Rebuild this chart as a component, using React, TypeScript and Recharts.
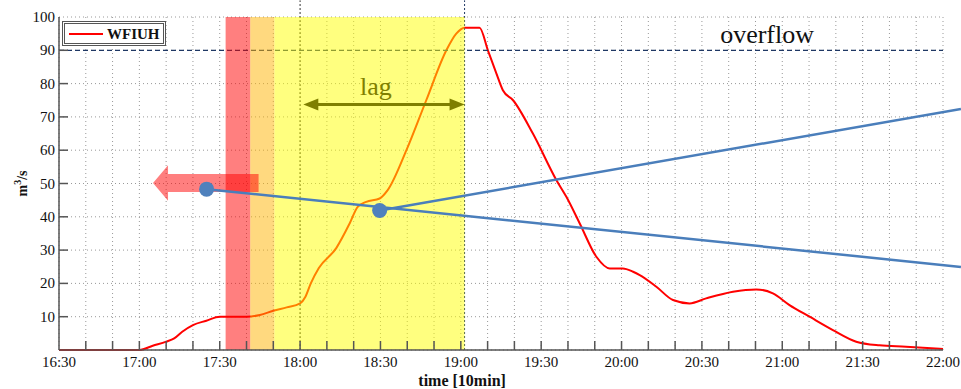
import React from 'react';
import {
  ComposedChart,
  Line,
  XAxis,
  YAxis,
  CartesianGrid,
  ReferenceLine,
  ReferenceArea,
  ReferenceDot,
  Legend,
  Label,
} from 'recharts';

// minutes after 16:30
const timeMinutes = [
  0, 10, 20, 30, 35, 40, 43, 46, 50, 55, 60, 65, 70, 75, 80, 85, 90, 92, 94, 97,
  103.5, 108.5, 111.5, 114.7, 119.7, 122.7, 129.7, 137.1, 144.6, 148.3, 151.4, 157,
  160.1, 163.3, 165.7, 169.5, 176.9, 185.7, 189.4, 194.4, 200.6, 205.6, 210.5, 214.3,
  216.8, 223, 229.2, 235.4, 241.6, 251.6, 260.3, 266.5, 272.7, 280.2, 288.9, 297.6,
  306.3, 316.2, 330,
];
const flowValues = [
  0, 0, 0, 0, 1.3, 2.5, 3.5, 5.5, 7.5, 8.8, 10, 10, 10, 10.5, 11.8, 12.8, 14, 16, 20, 24.6,
  30.6, 38, 43, 44.5, 45.5, 48, 60, 75, 90, 95, 96.8, 96.8,
  90, 83, 78, 75, 65, 51, 46, 38, 28, 24.5, 24.5, 23.5,
  22.5, 19, 15, 14, 15.5, 17.5, 18.2, 17, 13.5, 10, 6, 2.5,
  1.4, 1, 0.3,
];

const xTickMinutes = [
  0, 10, 20, 30, 40, 50, 60, 70, 80, 90, 100, 110, 120, 130, 140, 150, 160, 170, 180,
  190, 200, 210, 220, 230, 240, 250, 260, 270, 280, 290, 300, 310, 320, 330,
];
const xTickLabels = [
  '16:30', '17:00', '17:30', '18:00', '18:30', '19:00', '19:30', '20:00', '20:30',
  '21:00', '21:30', '22:00',
];
const yTicks = [0, 10, 20, 30, 40, 50, 60, 70, 80, 90, 100];
const overflowLevel = 90;

// shaded periods (minutes)
const redBand = [62.2, 71.4];
const orangeBand = [71.4, 80.4];
const yellowBand = [80.4, 151.4];

// markers above the plot
const markerTimes = [90, 151.4];
const markerLevels = [0, 105];

// lag arrow
const lagStart = 91.2;
const lagEnd = 151.4;
const lagLevel = [71.9, 75.5];

// red arrow
const arrowX = [35.1, 74.5];
const arrowY = [44.8, 55.5];

// blue trend lines
const trendDotT = [55.1, 119.7];
const trendDotV = [48.3, 41.9];
const trendEndT = 336.7;
const trendEndV = [24.95, 72.4];

const data = timeMinutes.map((t, i) => ({ t, q: flowValues[i] }));

const SERIF = '"Liberation Serif", "Times New Roman", serif';

const BottomTick = (props: any) => {
  const { x, y, payload } = props;
  const v = payload.value;
  const lbl = v % 30 === 0 ? xTickLabels[v / 30] : null;
  return (
    <g>
      {v > 0 && v < 330 && <line x1={x} y1={y} x2={x} y2={y - 9} stroke="#555" strokeWidth={1.5} />}
      {lbl && (
        <text x={x} y={y + 17} textAnchor="middle" style={{ fontFamily: SERIF, fontSize: 15 }} fill="#111">
          {lbl}
        </text>
      )}
    </g>
  );
};

const TopTick = (props: any) => {
  const { x, y, payload } = props;
  const v = payload.value;
  if (v <= 0 || v >= 330) return <g />;
  return <line x1={x} y1={y} x2={x} y2={y + 9} stroke="#555" strokeWidth={1.5} />;
};

const LeftTick = (props: any) => {
  const { x, y, payload } = props;
  const v = payload.value;
  return (
    <g>
      {v > 0 && v < 100 && <line x1={x} y1={y} x2={x + 9} y2={y} stroke="#555" strokeWidth={1.5} />}
      {v > 0 && (
        <text x={x - 4} y={y + 5} textAnchor="end" style={{ fontFamily: SERIF, fontSize: 15 }} fill="#111">
          {v}
        </text>
      )}
    </g>
  );
};

const RightTick = (props: any) => {
  const { x, y, payload } = props;
  const v = payload.value;
  if (v <= 0 || v >= 100) return <g />;
  return <line x1={x} y1={y} x2={x - 9} y2={y} stroke="#555" strokeWidth={1.5} />;
};

const LeftArrowShape = (props: any) => {
  const { x, y, width, height } = props;
  const cy = y + height / 2;
  const head = 15;
  const half = height * 0.255;
  const pts = [
    [x, cy],
    [x + head, y],
    [x + head, cy - half],
    [x + width, cy - half],
    [x + width, cy + half],
    [x + head, cy + half],
    [x + head, y + height],
  ]
    .map((p) => p.join(','))
    .join(' ');
  return <polygon points={pts} fill="rgba(255,0,0,0.5)" stroke="none" />;
};

const LagArrowShape = (props: any) => {
  const { x, y, width, height } = props;
  const cy = y + height / 2;
  const head = 15;
  const hh = 6;
  const c = '#7F7F00';
  return (
    <g>
      <line x1={x + head - 2} y1={cy} x2={x + width - head + 2} y2={cy} stroke={c} strokeWidth={3} />
      <polygon points={`${x},${cy} ${x + head},${cy - hh} ${x + head},${cy + hh}`} fill={c} />
      <polygon
        points={`${x + width},${cy} ${x + width - head},${cy - hh} ${x + width - head},${cy + hh}`}
        fill={c}
      />
      <text x={x + width / 2 - 8} y={cy - 9.3} textAnchor="middle" style={{ fontFamily: SERIF, fontSize: 26 }} fill="#808000">
        lag
      </text>
    </g>
  );
};

const LegendBox = () => (
  <div
    style={{
      width: 98,
      height: 19,
      border: '3px double #555',
      background: '#fff',
      position: 'relative',
      boxSizing: 'content-box',
    }}
  >
    <div style={{ position: 'absolute', left: 4, top: 9, width: 34, height: 2, background: '#ff0000' }} />
    <div
      style={{
        position: 'absolute',
        left: 42,
        top: 0,
        fontFamily: SERIF,
        fontWeight: 'bold',
        fontSize: 15,
        lineHeight: '20px',
        color: '#111',
      }}
    >
      WFIUH
    </div>
  </div>
);

export default function App() {
  return (
    <div style={{ position: 'absolute', left: 0, top: 0, background: '#fff' }}>
      <ComposedChart
        width={961}
        height={389}
        data={data}
        margin={{ top: 17, right: 18, bottom: 0, left: 0 }}
      >
        <CartesianGrid stroke="#999" strokeDasharray="1 3" />
        <XAxis
          dataKey="t"
          type="number"
          domain={[0, 330]}
          ticks={xTickMinutes}
          interval={0}
          height={39}
          tickSize={0}
          tickMargin={0}
          tickLine={false}
          axisLine={{ stroke: '#555', strokeWidth: 1.5 }}
          tick={<BottomTick />}
        >
          <Label
            content={(p: any) => {
              const vb = p.viewBox || {};
              return (
                <text
                  x={vb.x + vb.width * 0.456}
                  y={vb.y + 35.5}
                  textAnchor="middle"
                  style={{ fontFamily: SERIF, fontWeight: 'bold', fontSize: 16 }}
                  fill="#111"
                >
                  time [10min]
                </text>
              );
            }}
          />
        </XAxis>
        <XAxis
          xAxisId="top"
          orientation="top"
          dataKey="t"
          type="number"
          domain={[0, 330]}
          ticks={xTickMinutes}
          interval={0}
          height={0}
          tickSize={0}
          tickMargin={0}
          tickLine={false}
          axisLine={{ stroke: '#666', strokeWidth: 1.5 }}
          tick={<TopTick />}
        />
        <YAxis
          type="number"
          domain={[0, 100]}
          ticks={yTicks}
          interval={0}
          width={59}
          tickSize={0}
          tickMargin={0}
          tickLine={false}
          axisLine={{ stroke: '#555', strokeWidth: 1.5 }}
          tick={<LeftTick />}
        >
          <Label
            content={(p: any) => {
              const vb = p.viewBox || {};
              const cx = vb.x + 27;
              const cy = vb.y + vb.height / 2;
              return (
                <text
                  x={cx}
                  y={cy}
                  transform={`rotate(-90, ${cx}, ${cy})`}
                  textAnchor="middle"
                  style={{ fontFamily: SERIF, fontWeight: 'bold', fontSize: 14 }}
                  fill="#111"
                >
                  m<tspan dy={-6} style={{ fontSize: 10 }}>3</tspan>
                  <tspan dy={6}>/s</tspan>
                </text>
              );
            }}
          />
        </YAxis>
        <YAxis
          yAxisId="right"
          orientation="right"
          type="number"
          domain={[0, 100]}
          ticks={yTicks}
          interval={0}
          width={0}
          tickSize={0}
          tickMargin={0}
          tickLine={false}
          axisLine={{ stroke: '#999', strokeWidth: 2.5 }}
          tick={<RightTick />}
        />

        <Line
          type="monotone"
          dataKey="q"
          stroke="#ff0000"
          strokeWidth={2}
          dot={false}
          activeDot={false}
          isAnimationActive={false}
          zIndex={400}
        />

        <ReferenceLine
          y={overflowLevel}
          stroke="#1F3864"
          strokeWidth={1.2}
          strokeDasharray="5 3"
          zIndex={410}
        >
          <Label
            content={(p: any) => {
              const vb = p.viewBox || {};
              return (
                <text
                  x={vb.x + vb.width * 0.801}
                  y={vb.y - 7.5}
                  textAnchor="middle"
                  style={{ fontFamily: SERIF, fontSize: 26 }}
                  fill="#111"
                >
                  overflow
                </text>
              );
            }}
          />
        </ReferenceLine>

        <ReferenceLine
          segment={[
            { x: markerTimes[0], y: markerLevels[0] },
            { x: markerTimes[0], y: markerLevels[1] },
          ]}
          stroke="#333"
          strokeWidth={1}
          strokeDasharray="2 2"
          ifOverflow="visible"
          zIndex={415}
        />
        <ReferenceLine
          segment={[
            { x: markerTimes[1], y: markerLevels[0] },
            { x: markerTimes[1], y: markerLevels[1] },
          ]}
          stroke="#1F3864"
          strokeWidth={1}
          strokeDasharray="2 2"
          ifOverflow="visible"
          zIndex={415}
        />

        <ReferenceArea
          x1={redBand[0]}
          x2={redBand[1]}
          y1={0}
          y2={100}
          fill="#ff0000"
          fillOpacity={0.5}
          stroke="none"
          zIndex={450}
        />
        <ReferenceArea
          x1={orangeBand[0]}
          x2={orangeBand[1]}
          y1={0}
          y2={100}
          fill="#ffb300"
          fillOpacity={0.5}
          stroke="none"
          zIndex={450}
        />
        <ReferenceArea
          x1={yellowBand[0]}
          x2={yellowBand[1]}
          y1={0}
          y2={100}
          fill="#ffff00"
          fillOpacity={0.5}
          stroke="none"
          zIndex={450}
        />

        <ReferenceArea
          x1={arrowX[0]}
          x2={arrowX[1]}
          y1={arrowY[0]}
          y2={arrowY[1]}
          ifOverflow="visible"
          shape={(p: any) => <LeftArrowShape {...p} />}
          zIndex={460}
        />
        <ReferenceArea
          x1={lagStart}
          x2={lagEnd}
          y1={lagLevel[0]}
          y2={lagLevel[1]}
          ifOverflow="visible"
          shape={(p: any) => <LagArrowShape {...p} />}
          zIndex={470}
        />

        <ReferenceLine
          segment={[
            { x: trendDotT[0], y: trendDotV[0] },
            { x: trendEndT, y: trendEndV[0] },
          ]}
          stroke="#4A7EBB"
          strokeWidth={2.5}
          ifOverflow="visible"
          zIndex={600}
        />
        <ReferenceLine
          segment={[
            { x: trendDotT[1], y: trendDotV[1] },
            { x: trendEndT, y: trendEndV[1] },
          ]}
          stroke="#4A7EBB"
          strokeWidth={2.5}
          ifOverflow="visible"
          zIndex={600}
        />
        <ReferenceDot
          x={trendDotT[0]}
          y={trendDotV[0]}
          r={7.5}
          fill="#4F81BD"
          stroke="none"
          ifOverflow="visible"
          zIndex={700}
        />
        <ReferenceDot
          x={trendDotT[1]}
          y={trendDotV[1]}
          r={7.5}
          fill="#4F81BD"
          stroke="none"
          ifOverflow="visible"
          zIndex={700}
        />

        <Legend
          layout="vertical"
          align="center"
          verticalAlign="middle"
          wrapperStyle={{ left: 62, top: 21, width: 'auto', height: 'auto' }}
          content={() => <LegendBox />}
        />
      </ComposedChart>
    </div>
  );
}
